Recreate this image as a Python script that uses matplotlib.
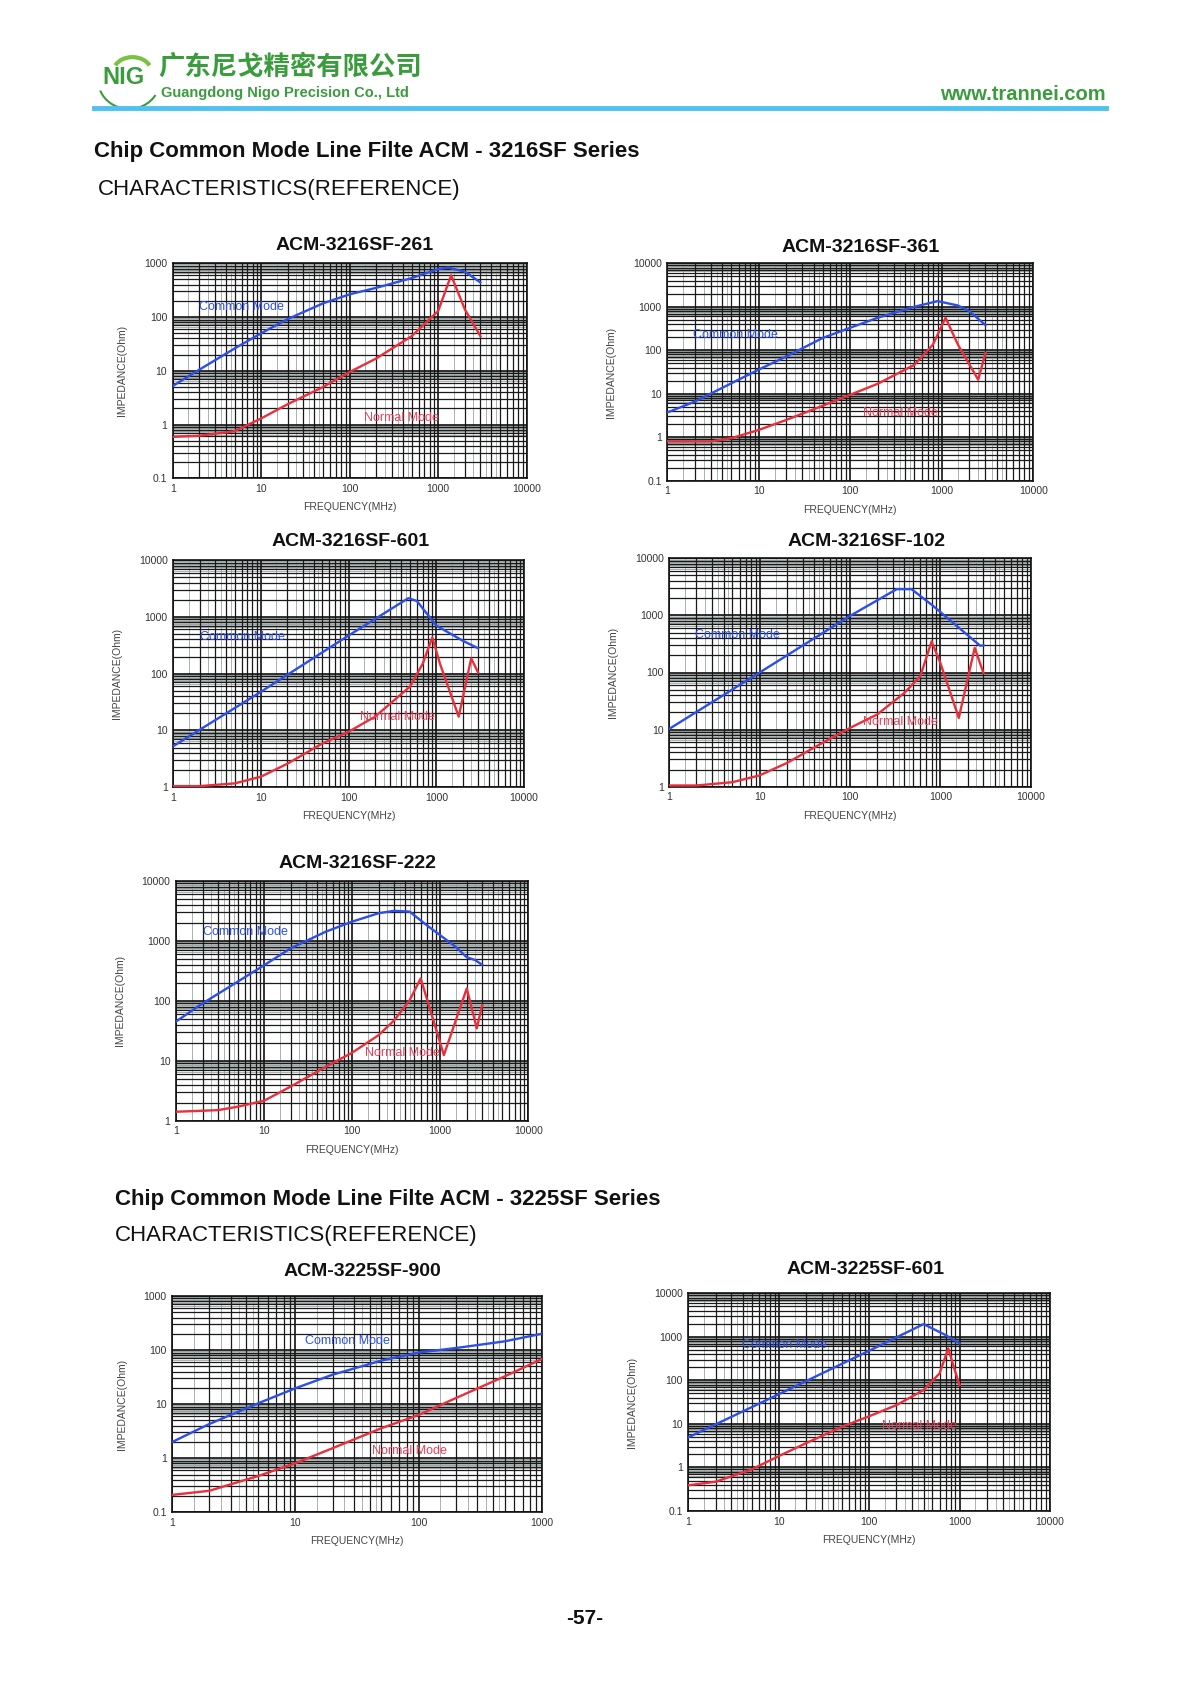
import numpy as np
import matplotlib
matplotlib.use("Agg")
import matplotlib.pyplot as plt
from matplotlib.patches import Arc

plt.rcParams['font.family'] = ['Liberation Sans', 'DejaVu Sans']

W, H = 1200, 1688

# ---------------- data ----------------
# ACM-3216SF-261
F261_CM = [1, 2, 5, 10, 20, 50, 100, 200, 500, 1000, 1300, 2000, 3000]
Z261_CM = [5.2, 10.5, 26, 50, 92, 180, 265, 350, 530, 780, 830, 700, 440]
F261_NM = [1, 2, 5, 10, 20, 50, 100, 200, 500, 1000, 1400, 2000, 3000]
Z261_NM = [0.59, 0.62, 0.75, 1.3, 2.4, 5.0, 9.5, 17, 44, 130, 600, 139, 44]

# ACM-3216SF-361
F361_CM = [1, 2, 10, 20, 50, 100, 200, 500, 900, 1500, 2000, 3000]
Z361_CM = [3.7, 6.6, 36, 72, 192, 330, 560, 1000, 1350, 1070, 790, 380]
F361_NM = [1, 3, 5, 10, 20, 50, 100, 200, 500, 800, 1100, 1500, 2500, 3000]
Z361_NM = [0.8, 0.8, 0.95, 1.47, 2.5, 5.3, 9.5, 17, 46, 135, 560, 135, 21, 87]

# ACM-3216SF-601
F601_CM = [1, 10, 100, 480, 600, 1000, 2000, 3000]
Z601_CM = [5.3, 48, 470, 2130, 1900, 700, 380, 280]
F601_NM = [1, 2, 5, 10, 20, 50, 100, 200, 500, 700, 900, 1100, 1800, 2500, 3000]
Z601_NM = [1.05, 1.05, 1.17, 1.54, 2.6, 5.9, 9.5, 17.5, 59, 150, 435, 150, 17.5, 186, 104]

# ACM-3216SF-102
F102_CM = [1, 10, 100, 329, 480, 830, 2760, 3000]
Z102_CM = [10.3, 100, 980, 2880, 2880, 1470, 294, 300]
F102_NM = [1, 2, 5, 10, 20, 50, 100, 200, 400, 600, 800, 1000, 1600, 2400, 3000]
Z102_NM = [1.05, 1.05, 1.2, 1.58, 2.6, 5.9, 10.7, 18.4, 44, 86, 350, 147, 16, 270, 98]

# ACM-3216SF-222
F222_CM = [1, 2, 5, 10, 20, 50, 100, 200, 300, 450, 700, 1500, 2000, 2500, 3000]
Z222_CM = [45, 90, 207, 390, 745, 1410, 2080, 2870, 3150, 3050, 1820, 790, 530, 475, 395]
F222_NM = [1, 3, 5, 10, 20, 50, 100, 200, 300, 450, 600, 1100, 2000, 2600, 3000]
Z222_NM = [1.41, 1.5, 1.71, 2.15, 3.7, 7.9, 13.6, 26.7, 47, 102, 235, 12.4, 160, 34.6, 85]

# ACM-3225SF-900
F900_CM = [1, 2, 5, 10, 20, 50, 100, 200, 500, 1000]
Z900_CM = [2.0, 4.3, 10.4, 19.7, 35, 64, 90, 109, 145, 200]
F900_NM = [1, 2, 5, 10, 20, 50, 100, 200, 500, 1000]
Z900_NM = [0.21, 0.25, 0.47, 0.81, 1.53, 3.6, 6.3, 12.9, 32.6, 68]

# ACM-3225SF-601
F3225_601_CM = [1, 10, 100, 400, 700, 1000]
Z3225_601_CM = [4.9, 48, 480, 1960, 1100, 710]
F3225_601_NM = [1, 2, 5, 10, 20, 50, 100, 200, 400, 600, 750, 850, 1000]
Z3225_601_NM = [0.39, 0.47, 0.9, 1.82, 3.6, 8.6, 15, 27, 60, 144, 540, 225, 78]

TITLES = ["ACM-3216SF-261", "ACM-3216SF-361", "ACM-3216SF-601", "ACM-3216SF-102",
          "ACM-3216SF-222", "ACM-3225SF-900", "ACM-3225SF-601"]

BLUE = '#2d4fe6'
RED = '#e8303c'
GREEN = '#3a9c3c'

fig = plt.figure(figsize=(W / 100, H / 100), dpi=100)
fig.patch.set_facecolor('white')


def fx(x):
    return x / W


def fy(y):
    return 1 - y / H


def chart(px, title, title_xy, xlim, ylim, fcm, zcm, fnm, znm, cm_pos, nm_pos):
    x0, x1, y0, y1 = px
    ax = fig.add_axes([fx(x0), fy(y1), (x1 - x0) / W, (y1 - y0) / H])
    ax.set_xscale('log')
    ax.set_yscale('log')
    ax.set_xlim(*xlim)
    ax.set_ylim(*ylim)
    # grey bands just below every decade
    dmin, dmax = int(round(np.log10(ylim[0]))), int(round(np.log10(ylim[1])))
    for d in range(dmin, dmax):
        ax.axhspan(0.7 * 10 ** (d + 1), 10 ** (d + 1), color='#c3caca', lw=0, zorder=0)
        for m in (6.5, 7.5, 8.5, 9.5):
            ax.axhline(m * 10 ** d, color='#8a9494', lw=0.5, zorder=1)
    xmin, xmax = int(round(np.log10(xlim[0]))), int(round(np.log10(xlim[1])))
    for d in range(xmin, xmax):
        for m in (1.5, 2.5, 3.5, 4.5):
            ax.axvline(m * 10 ** d, color='#9aa6a6', lw=0.6, zorder=1)
    ax.grid(True, which='major', color='#111111', lw=1.2, zorder=2)
    ax.grid(True, which='minor', color='#1a1a1a', lw=0.9, zorder=2)
    ax.set_axisbelow(False)
    for s in ax.spines.values():
        s.set_color('#111111')
        s.set_linewidth(1.2)
    xt = [10 ** k for k in range(xmin, xmax + 1)]
    yt = [10 ** k for k in range(dmin, dmax + 1)]
    ax.set_xticks(xt)
    ax.set_xticklabels([('%g' % v) for v in xt])
    ax.set_yticks(yt)
    ax.set_yticklabels([('%g' % v) for v in yt])
    ax.tick_params(which='both', length=0, labelsize=7.5, colors='#333333', pad=4)
    ax.set_xlabel('FREQUENCY(MHz)', fontsize=7.5, color='#444444', labelpad=6)
    ax.set_ylabel('IMPEDANCE(Ohm)', fontsize=7.5, color='#444444', labelpad=12)
    ax.plot(fcm, zcm, color=BLUE, lw=1.7, zorder=5)
    ax.plot(fnm, znm, color=RED, lw=1.7, zorder=5)
    ax.text(cm_pos[0], cm_pos[1], 'Common Mode', color=BLUE, fontsize=9, va='center', ha='left', zorder=6)
    ax.text(nm_pos[0], nm_pos[1], 'Normal Mode', color='#e8405a', fontsize=9, va='center', ha='left', zorder=6)
    fig.text(fx(title_xy[0]), fy(title_xy[1]), title, fontsize=14, fontweight='bold',
             ha='center', va='center', color='#111111')
    return ax


chart((172.7, 526.7, 263.3, 478.3), TITLES[0], (355, 245), (1, 10000), (0.1, 1000),
      F261_CM, Z261_CM, F261_NM, Z261_NM, (2.0, 155), (144, 1.33))
chart((667.3, 1033.3, 263.3, 480.7), TITLES[1], (861, 247), (1, 10000), (0.1, 10000),
      F361_CM, Z361_CM, F361_NM, Z361_NM, (1.92, 230), (139, 3.6))
chart((173.3, 524, 560, 787.3), TITLES[2], (351, 542), (1, 10000), (1, 10000),
      F601_CM, Z601_CM, F601_NM, Z601_NM, (2.0, 450), (134, 17))
chart((669.3, 1030.7, 558.3, 786.7), TITLES[3], (867, 542), (1, 10000), (1, 10000),
      F102_CM, Z102_CM, F102_NM, Z102_NM, (1.92, 458), (140, 13.5))
chart((176, 528.3, 880.7, 1120.7), TITLES[4], (357, 864), (1, 10000), (1, 10000),
      F222_CM, Z222_CM, F222_NM, Z222_NM, (2.04, 1410), (141, 13.2))
chart((172.3, 541.7, 1296, 1512.3), TITLES[5], (362, 1272), (1, 1000), (0.1, 1000),
      F900_CM, Z900_CM, F900_NM, Z900_NM, (12, 145), (41.8, 1.37))
chart((688.3, 1050, 1293.3, 1511), TITLES[6], (866, 1270), (1, 10000), (0.1, 10000),
      F3225_601_CM, Z3225_601_CM, F3225_601_NM, Z3225_601_NM, (3.9, 650), (138, 9))

# ---------------- page header ----------------
fig.text(fx(102), fy(77), 'NIG', fontsize=17, fontweight='bold', color=GREEN, va='center', ha='left')
hdr = fig.add_axes([fx(95), fy(112), 68 / W, 62 / H])
hdr.set_xlim(0, 1); hdr.set_ylim(0, 1); hdr.axis('off')
hdr.add_patch(Arc((0.5, 0.5), 0.9, 0.9, theta1=200, theta2=330, color=GREEN, lw=1.5))
hdr.add_patch(Arc((0.55, 0.66), 0.55, 0.45, theta1=20, theta2=160, color='#7cc242', lw=3))

fig.text(fx(158), fy(67), '广东尼戈精密有限公司', fontsize=19, fontweight='bold', color=GREEN,
         va='center', ha='left', family=['Noto Sans CJK SC', 'DejaVu Sans'])
fig.text(fx(161), fy(93), 'Guangdong Nigo Precision Co., Ltd', fontsize=10.5, fontweight='bold',
         color=GREEN, va='center', ha='left')
fig.text(fx(1106), fy(95), 'www.trannei.com', fontsize=14.5, fontweight='bold', color=GREEN,
         va='center', ha='right')
fig.add_artist(plt.Line2D([fx(94), fx(1106)], [fy(108), fy(108)], color='#4fc1f0', lw=3.5))

# ---------------- section titles ----------------
fig.text(fx(94), fy(152), 'Chip Common Mode Line Filte ACM - 3216SF Series', fontsize=16,
         fontweight='bold', color='#111111', va='center', ha='left')
fig.text(fx(98), fy(189), 'CHARACTERISTICS(REFERENCE)', fontsize=16, color='#111111',
         va='center', ha='left')
fig.text(fx(115), fy(1199), 'Chip Common Mode Line Filte ACM - 3225SF Series', fontsize=16,
         fontweight='bold', color='#111111', va='center', ha='left')
fig.text(fx(115), fy(1235), 'CHARACTERISTICS(REFERENCE)', fontsize=16, color='#111111',
         va='center', ha='left')

fig.text(fx(585), fy(1618), '-57-', fontsize=15, fontweight='bold', color='#111111',
         va='center', ha='center')

fig.savefig('out.png', dpi=100, facecolor='white')
